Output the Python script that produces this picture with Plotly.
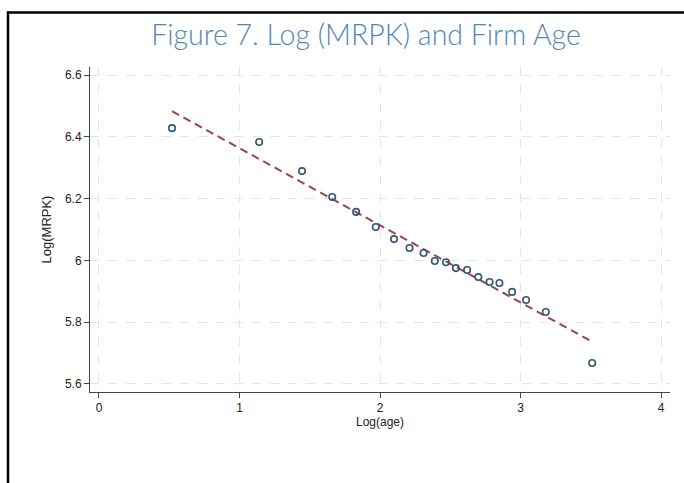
import plotly.graph_objects as go

# Binned scatter values
log_age = [0.52, 1.14, 1.445, 1.66, 1.83, 1.97, 2.10, 2.21, 2.31, 2.39,
           2.47, 2.54, 2.62, 2.70, 2.78, 2.85, 2.94, 3.04, 3.18, 3.51]
log_mrpk = [6.428, 6.383, 6.289, 6.205, 6.157, 6.108, 6.069, 6.040, 6.024, 5.998,
            5.994, 5.975, 5.969, 5.946, 5.930, 5.927, 5.898, 5.872, 5.833, 5.668]

# Fitted line end points
fit_x = [0.52, 3.51]
fit_y = [6.483, 5.737]

x_ticks = [0, 1, 2, 3, 4]
y_ticks = [5.6, 5.8, 6.0, 6.2, 6.4, 6.6]
y_tick_labels = ["5.6", "5.8", "6", "6.2", "6.4", "6.6"]

W, H = 684, 483
L, R, T, B = 90, 14, 67, 91
PW, PH = W - L - R, H - T - B

def px_x(px):
    return (px - L) / PW

def px_y(py):
    return (H - B - py) / PH

FONT = "Liberation Sans, Arial"

fig = go.Figure()
fig.add_trace(go.Scatter(
    x=fit_x, y=fit_y, mode="lines",
    line=dict(color="#9a4450", width=2, dash="8px,5px"),
    showlegend=False, hoverinfo="skip"))
fig.add_trace(go.Scatter(
    x=log_age, y=log_mrpk, mode="markers",
    marker=dict(symbol="circle-open", size=6.5, color="#35587a",
                line=dict(width=1.6, color="#35587a")),
    showlegend=False))

axis_common = dict(
    showline=True, linecolor="#444444", linewidth=1,
    ticks="outside", ticklen=5, tickcolor="#444444", tickwidth=1,
    showgrid=True, gridcolor="#e4e4e4", griddash="dash", gridwidth=1,
    zeroline=False, mirror=False,
    tickfont=dict(family=FONT, size=12, color="#222222"),
)

fig.update_xaxes(
    range=[-0.064, 4.064], tickmode="array", tickvals=x_ticks,
    title=dict(text="Log(age)", standoff=2,
               font=dict(family=FONT, size=12, color="#222222")),
    **axis_common)
fig.update_yaxes(
    range=[5.574, 6.626], tickmode="array", tickvals=y_ticks, ticktext=y_tick_labels,
    title=dict(text="Log(MRPK)", standoff=10,
               font=dict(family=FONT, size=13, color="#222222")),
    **axis_common)

# Page frame: left and top black border lines
fig.add_shape(type="line", xref="paper", yref="paper",
              x0=px_x(7), x1=px_x(700), y0=px_y(12.5), y1=px_y(12.5),
              line=dict(color="black", width=2.5))
fig.add_shape(type="line", xref="paper", yref="paper",
              x0=px_x(8), x1=px_x(8), y0=px_y(11.5), y1=px_y(500),
              line=dict(color="black", width=2.5))

fig.update_layout(
    width=W, height=H,
    margin=dict(l=L, r=R, t=T, b=B),
    paper_bgcolor="white", plot_bgcolor="white",
    title=dict(text="Figure 7. Log (MRPK) and Firm Age",
               x=366 / W, xref="container", xanchor="center",
               y=1 - 35 / H, yref="container", yanchor="middle",
               font=dict(family="Lato, Open Sans", size=28.5, color="#4f86b8",
                         weight=300)),
)

fig.write_html(
    "out.html",
    config={"displayModeBar": False},
    post_script="document.body.style.margin='0';document.body.style.overflow='hidden';",
)
